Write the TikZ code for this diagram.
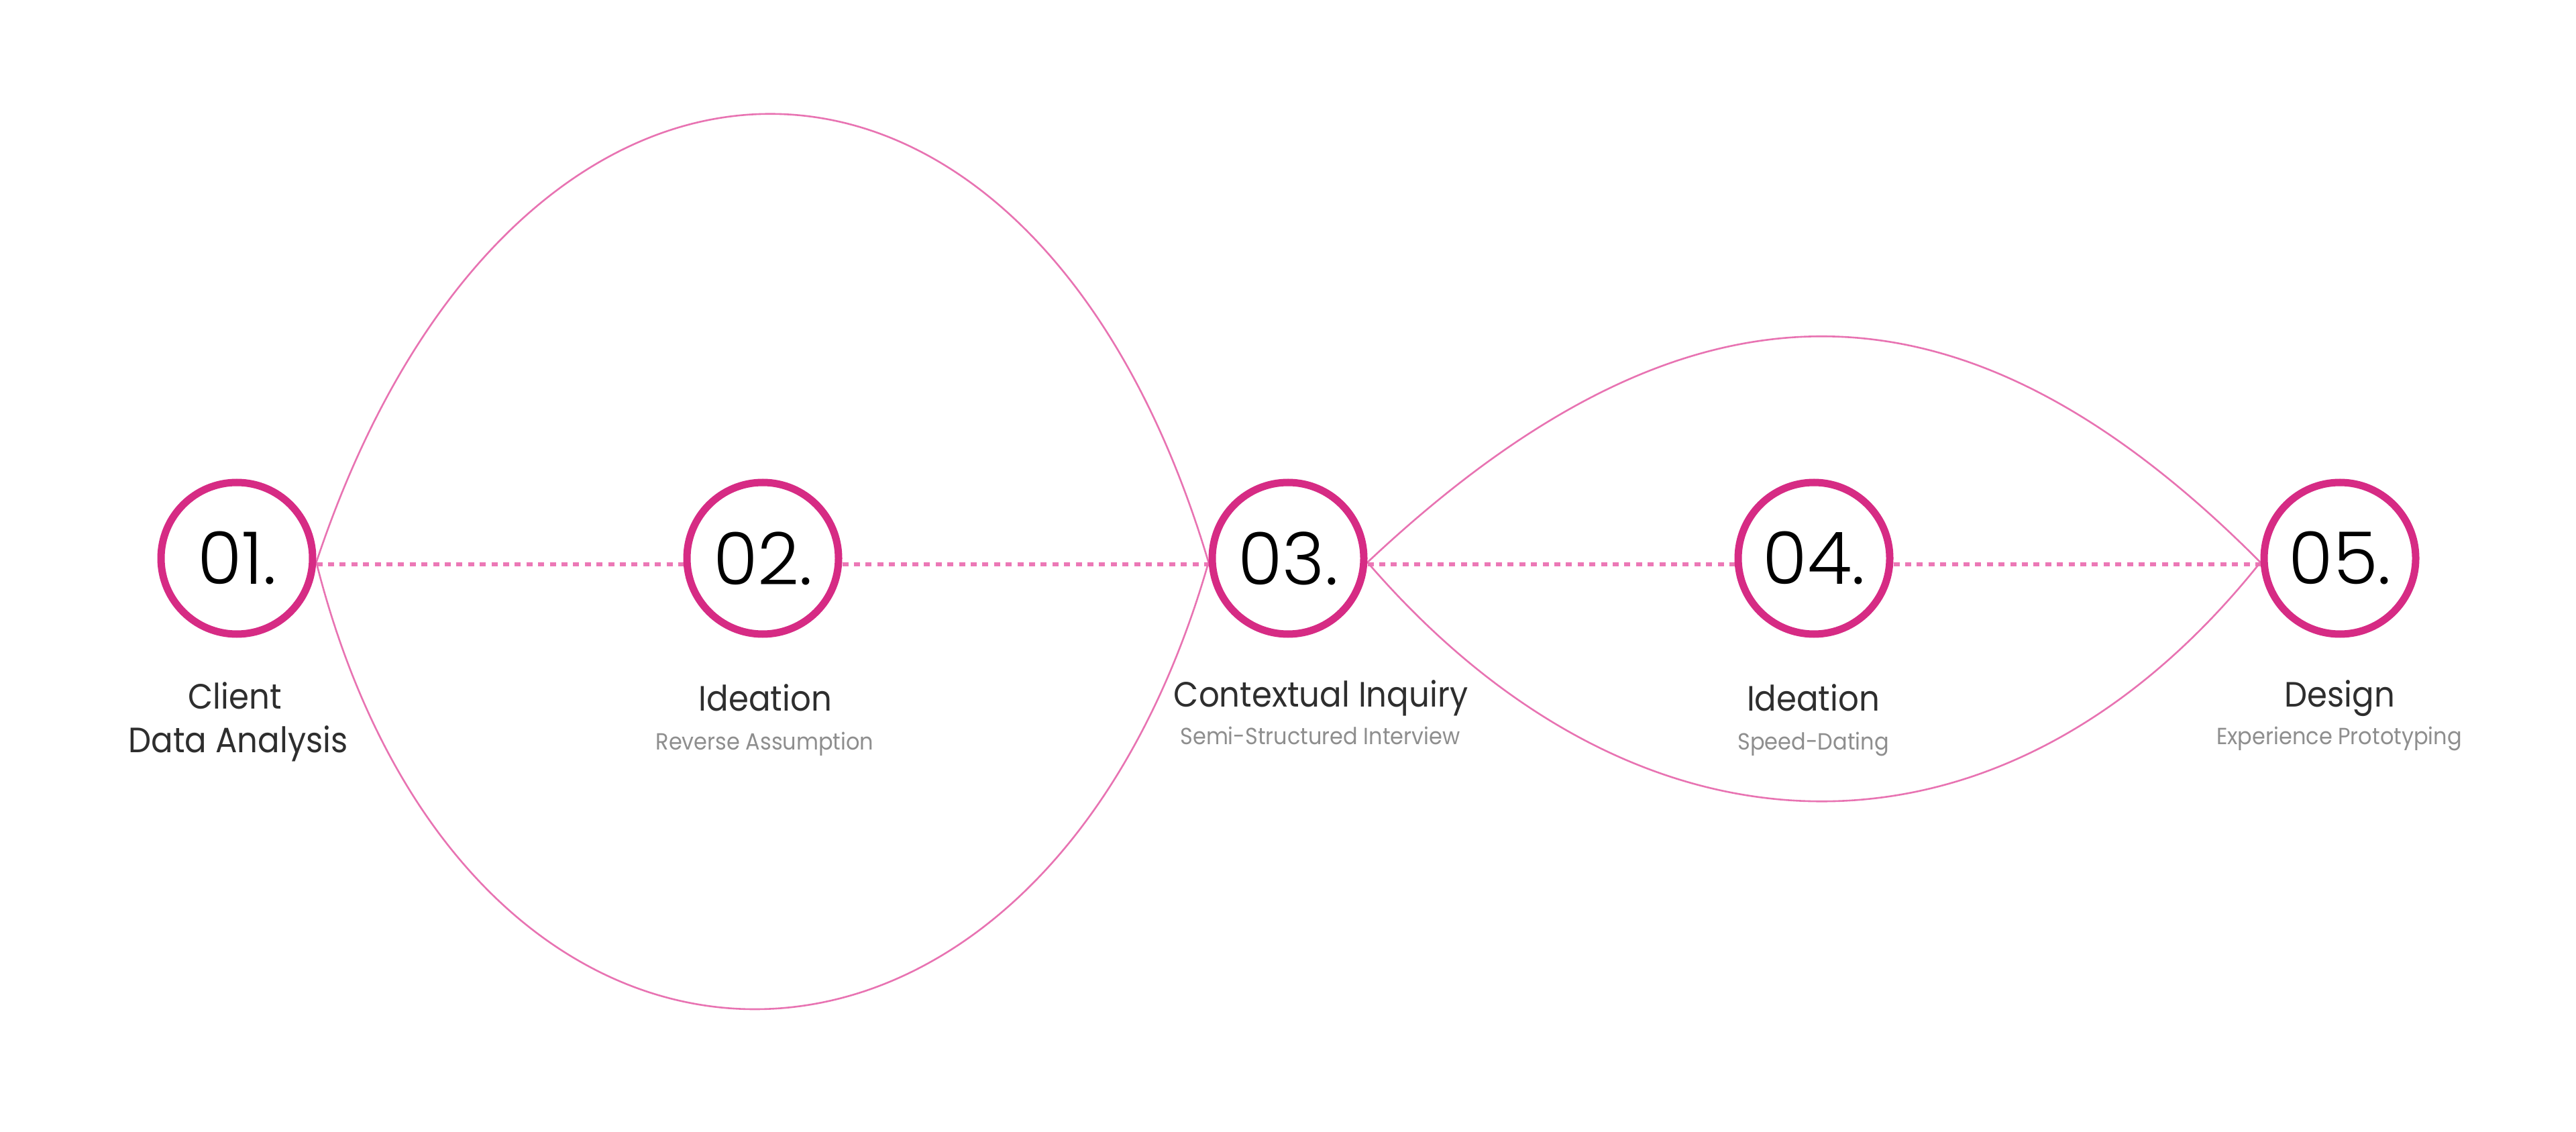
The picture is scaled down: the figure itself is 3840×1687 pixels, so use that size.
\documentclass[tikz,border=0pt]{standalone}
\usepackage{fontspec}
\IfFontExistsTF{Poppins Light}{\setmainfont{Poppins Light}}{\setmainfont{Poppins}}
\newfontfamily\labelfont{Poppins}[FakeStretch=0.92]
\usetikzlibrary{calc,backgrounds}
\definecolor{ring}{RGB}{214,43,132}
\definecolor{curvepink}{RGB}{232,115,178}
\definecolor{dotpink}{RGB}{236,120,182}
\definecolor{titlegray}{RGB}{46,46,46}
\definecolor{subgray}{RGB}{142,142,142}
\tikzset{
  stage/.style={circle, draw=ring, line width=2.75pt, fill=white, minimum size=56.5pt, inner sep=0pt,
    font=\fontsize{27}{30}\selectfont, text=black},
  title/.style={anchor=base, font=\labelfont\fontsize{13.1}{15}\selectfont, text=titlegray, inner sep=0pt},
  subtitle/.style={anchor=base, font=\labelfont\fontsize{8.7}{10}\selectfont, text=subgray, inner sep=0pt},
  loopline/.style={draw=curvepink, line width=0.65pt},
  dotline/.style={draw=dotpink, line width=1.55pt, dash pattern=on 2.25pt off 2.1pt}
}
\begin{document}
\begin{tikzpicture}[x=0.25pt,y=-0.25pt]
\useasboundingbox (0,0) rectangle (3840,1687);
% stages
\node[stage] (c1) at (353,832) {01.};
\node[stage] (c2) at (1137,832) {02.};
\node[stage] (c3) at (1920,832) {03.};
\node[stage] (c4) at (2704,832) {04.};
\node[stage] (c5) at (3488,832) {05.};
% labels
\node[title] (t1a) at (350,1056) {Client};
\node[title] (t1b) at (355,1121) {Data Analysis};
\node[title] (t2) at (1141,1060) {Ideation};
\node[subtitle] (s2) at (1140,1117) {Reverse Assumption};
\node[title] (t3) at (1969,1053) {Contextual Inquiry};
\node[subtitle] (s3) at (1968,1109) {Semi-Structured Interview};
\node[title] (t4) at (2703,1060) {Ideation};
\node[subtitle] (s4) at (2703,1117) {Speed-Dating};
\node[title] (t5) at (3488,1053) {Design};
\node[subtitle] (s5) at (3487,1109) {Experience Prototyping};
\begin{scope}[on background layer]
\fill[white] (0,0) rectangle (3840,1687);
% connection points
\coordinate (e1) at ($(c1.east)+(0,6)$);
\coordinate (w3) at ($(c3.west)+(0,6)$);
\coordinate (e3) at ($(c3.east)+(0,6)$);
\coordinate (w5) at ($(c5.west)+(0,6)$);
% dotted line
\draw[dotline] ($(c1.east)+(0,9)$) -- ($(c2.west)+(0,9)$);
\draw[dotline] ($(c2.east)+(0,9)$) -- ($(c3.west)+(0,9)$);
\draw[dotline] ($(c3.east)+(0,9)$) -- ($(c4.west)+(0,9)$);
\draw[dotline] ($(c4.east)+(0,9)$) -- ($(c5.west)+(0,9)$);
% loops
\draw[loopline] (e1) .. controls (768,-53) and (1536,-53) .. (w3);
\draw[loopline] (e1) .. controls (696,1726) and (1547,1726) .. (w3);
\draw[loopline] (e3) .. controls (2516,389) and (2923,389) .. (w5);
\draw[loopline] (e3) .. controls (2448,1313) and (2991,1313) .. (w5);
\end{scope}
\end{tikzpicture}
\end{document}
